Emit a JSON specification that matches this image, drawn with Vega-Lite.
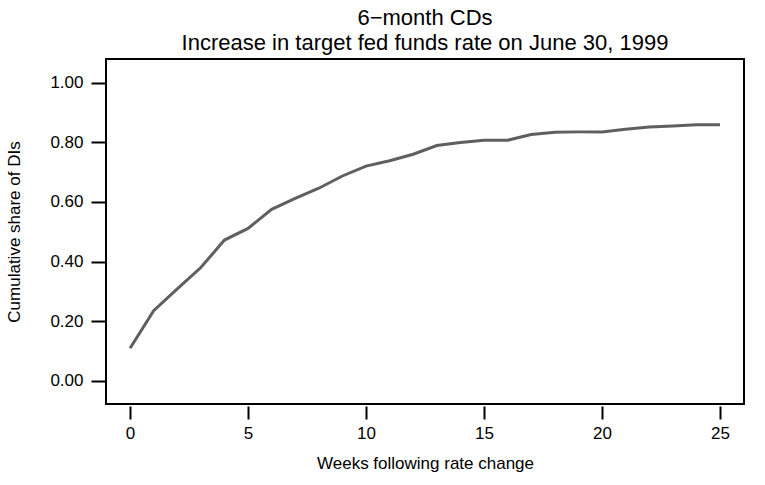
{
  "$schema": "https://vega.github.io/schema/vega-lite/v6.json",
  "width": 638,
  "height": 345,
  "autosize": {"type": "none"},
  "padding": {"left": 106, "top": 59, "right": 21, "bottom": 81},
  "background": "white",
  "title": {
    "text": ["6−month CDs", "Increase in target fed funds rate on June 30, 1999"],
    "anchor": "middle",
    "frame": "group",
    "font": "Liberation Sans",
    "fontSize": 22,
    "fontWeight": "normal",
    "color": "black",
    "lineHeight": 25,
    "offset": 4
  },
  "data": {
    "values": [
      {"week": 0, "share": 0.109},
      {"week": 1, "share": 0.235},
      {"week": 2, "share": 0.308},
      {"week": 3, "share": 0.380},
      {"week": 4, "share": 0.472},
      {"week": 5, "share": 0.511},
      {"week": 6, "share": 0.575},
      {"week": 7, "share": 0.612},
      {"week": 8, "share": 0.646},
      {"week": 9, "share": 0.687},
      {"week": 10, "share": 0.720},
      {"week": 11, "share": 0.738},
      {"week": 12, "share": 0.760},
      {"week": 13, "share": 0.789},
      {"week": 14, "share": 0.799},
      {"week": 15, "share": 0.807},
      {"week": 16, "share": 0.807},
      {"week": 17, "share": 0.826},
      {"week": 18, "share": 0.834},
      {"week": 19, "share": 0.835},
      {"week": 20, "share": 0.835},
      {"week": 21, "share": 0.844},
      {"week": 22, "share": 0.851},
      {"week": 23, "share": 0.855},
      {"week": 24, "share": 0.859},
      {"week": 25, "share": 0.859}
    ]
  },
  "mark": {"type": "line", "color": "#5f5f5f", "strokeWidth": 3, "clip": true},
  "encoding": {
    "x": {
      "field": "week",
      "type": "quantitative",
      "scale": {"domain": [-1.02, 26.02], "nice": false, "zero": false},
      "axis": {
        "title": "Weeks following rate change",
        "values": [0, 5, 10, 15, 20, 25],
        "format": "d",
        "offset": 2,
        "domain": false,
        "grid": false,
        "ticks": true,
        "tickSize": 13,
        "tickWidth": 2,
        "tickColor": "black",
        "labelFont": "Liberation Sans",
        "labelFontSize": 17,
        "labelColor": "black",
        "labelPadding": 6,
        "titleFont": "Liberation Sans",
        "titleFontSize": 17,
        "titleFontWeight": "normal",
        "titleColor": "black",
        "titlePadding": 14
      }
    },
    "y": {
      "field": "share",
      "type": "quantitative",
      "scale": {"domain": [-0.078, 1.0795], "nice": false, "zero": false},
      "axis": {
        "title": "Cumulative share of DIs",
        "values": [0, 0.2, 0.4, 0.6, 0.8, 1.0],
        "format": ".2f",
        "domain": false,
        "grid": false,
        "tickSize": 15,
        "tickWidth": 2,
        "tickColor": "black",
        "labelFont": "Liberation Sans",
        "labelFontSize": 17,
        "labelColor": "black",
        "labelPadding": 8,
        "titleFont": "Liberation Sans",
        "titleFontSize": 17,
        "titleFontWeight": "normal",
        "titleColor": "black",
        "titlePadding": 26
      }
    }
  },
  "config": {
    "view": {"stroke": "black", "strokeWidth": 2}
  }
}
